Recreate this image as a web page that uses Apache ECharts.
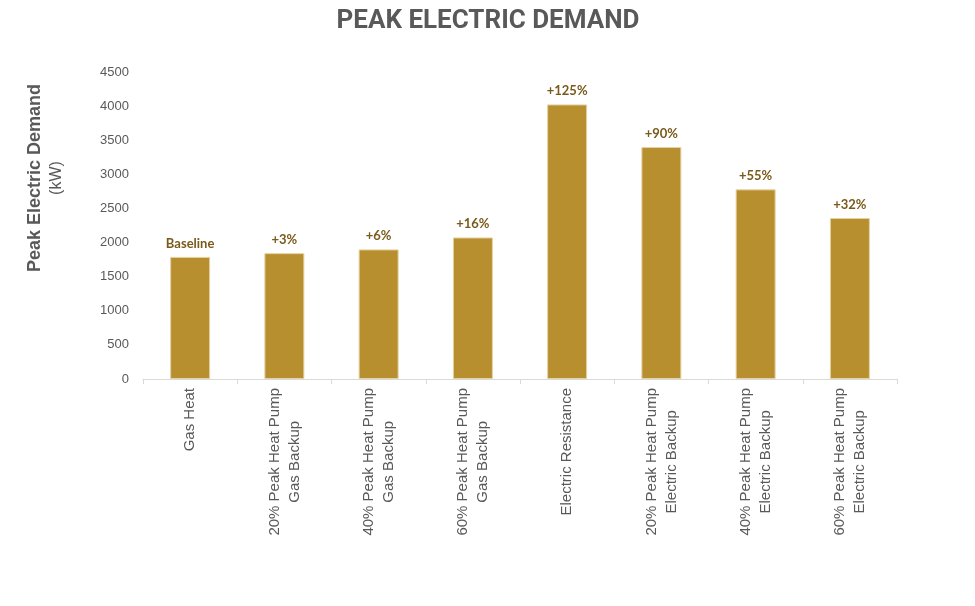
<!DOCTYPE html>
<html><head><meta charset="utf-8">
<script src="https://cdn.jsdelivr.net/npm/echarts@6/dist/echarts.min.js"></script>
<style>html,body{margin:0;padding:0;background:#fff}#c{width:975px;height:606px}</style>
</head><body><div id="c"></div>
<script>
const categories = ["Gas Heat","20% Peak Heat Pump\nGas Backup","40% Peak Heat Pump\nGas Backup","60% Peak Heat Pump\nGas Backup","Electric Resistance","20% Peak Heat Pump\nElectric Backup","40% Peak Heat Pump\nElectric Backup","60% Peak Heat Pump\nElectric Backup"];
const values = [1790, 1845, 1900, 2075, 4025, 3400, 2780, 2360];
const barLabels = ["Baseline","+3%","+6%","+16%","+125%","+90%","+55%","+32%"];
const chart = echarts.init(document.getElementById('c'));
chart.setOption({
  animation:false,
  title:{text:'PEAK ELECTRIC DEMAND',left:483,textAlign:'center',top:3,textStyle:{fontFamily:'Roboto',fontWeight:'bold',fontSize:26,color:'#595959'}},
  grid:{left:143,right:78,top:72,bottom:227},
  xAxis:{type:'category',data:categories,
    axisLine:{lineStyle:{color:'#d9d9d9'}},
    axisTick:{show:true,length:5,lineStyle:{color:'#d9d9d9'}},
    axisLabel:{rotate:90,margin:9,
      formatter:v=>v.split('\n').map(s=>'{a|'+s+'}').join('\n'),
      rich:{a:{color:'#595959',fontSize:15,fontFamily:'Liberation Sans',lineHeight:20,align:'center'}}}},
  yAxis:{type:'value',min:0,max:4500,interval:500,
    splitLine:{show:false},axisLine:{show:false},axisTick:{show:false},
    axisLabel:{color:'#595959',fontSize:13,fontFamily:'Liberation Sans',margin:14,formatter:v=>String(v)}},
  graphic:[{type:'text',x:46,y:178,rotation:Math.PI/2,
    style:{text:'{b|Peak Electric Demand}\n{n|(kW)}',align:'center',verticalAlign:'middle',fill:'#595959',
      rich:{b:{fontFamily:'Liberation Sans',fontWeight:'bold',fontSize:18,fill:'#595959',color:'#595959',lineHeight:21,align:'center'},
            n:{fontFamily:'Liberation Sans',fontSize:16,fill:'#595959',color:'#595959',lineHeight:21,align:'center'}}}}],
  series:[{type:'bar',data:values,barWidth:40,
    itemStyle:{color:'#B88F2F',borderColor:'#E6D3A3',borderWidth:1},
    label:{show:true,position:'top',distance:7,color:'#7A5A1A',fontWeight:'bold',fontSize:13,fontFamily:'Lato',
      formatter:p=>barLabels[p.dataIndex]}}]
});
</script></body></html>
